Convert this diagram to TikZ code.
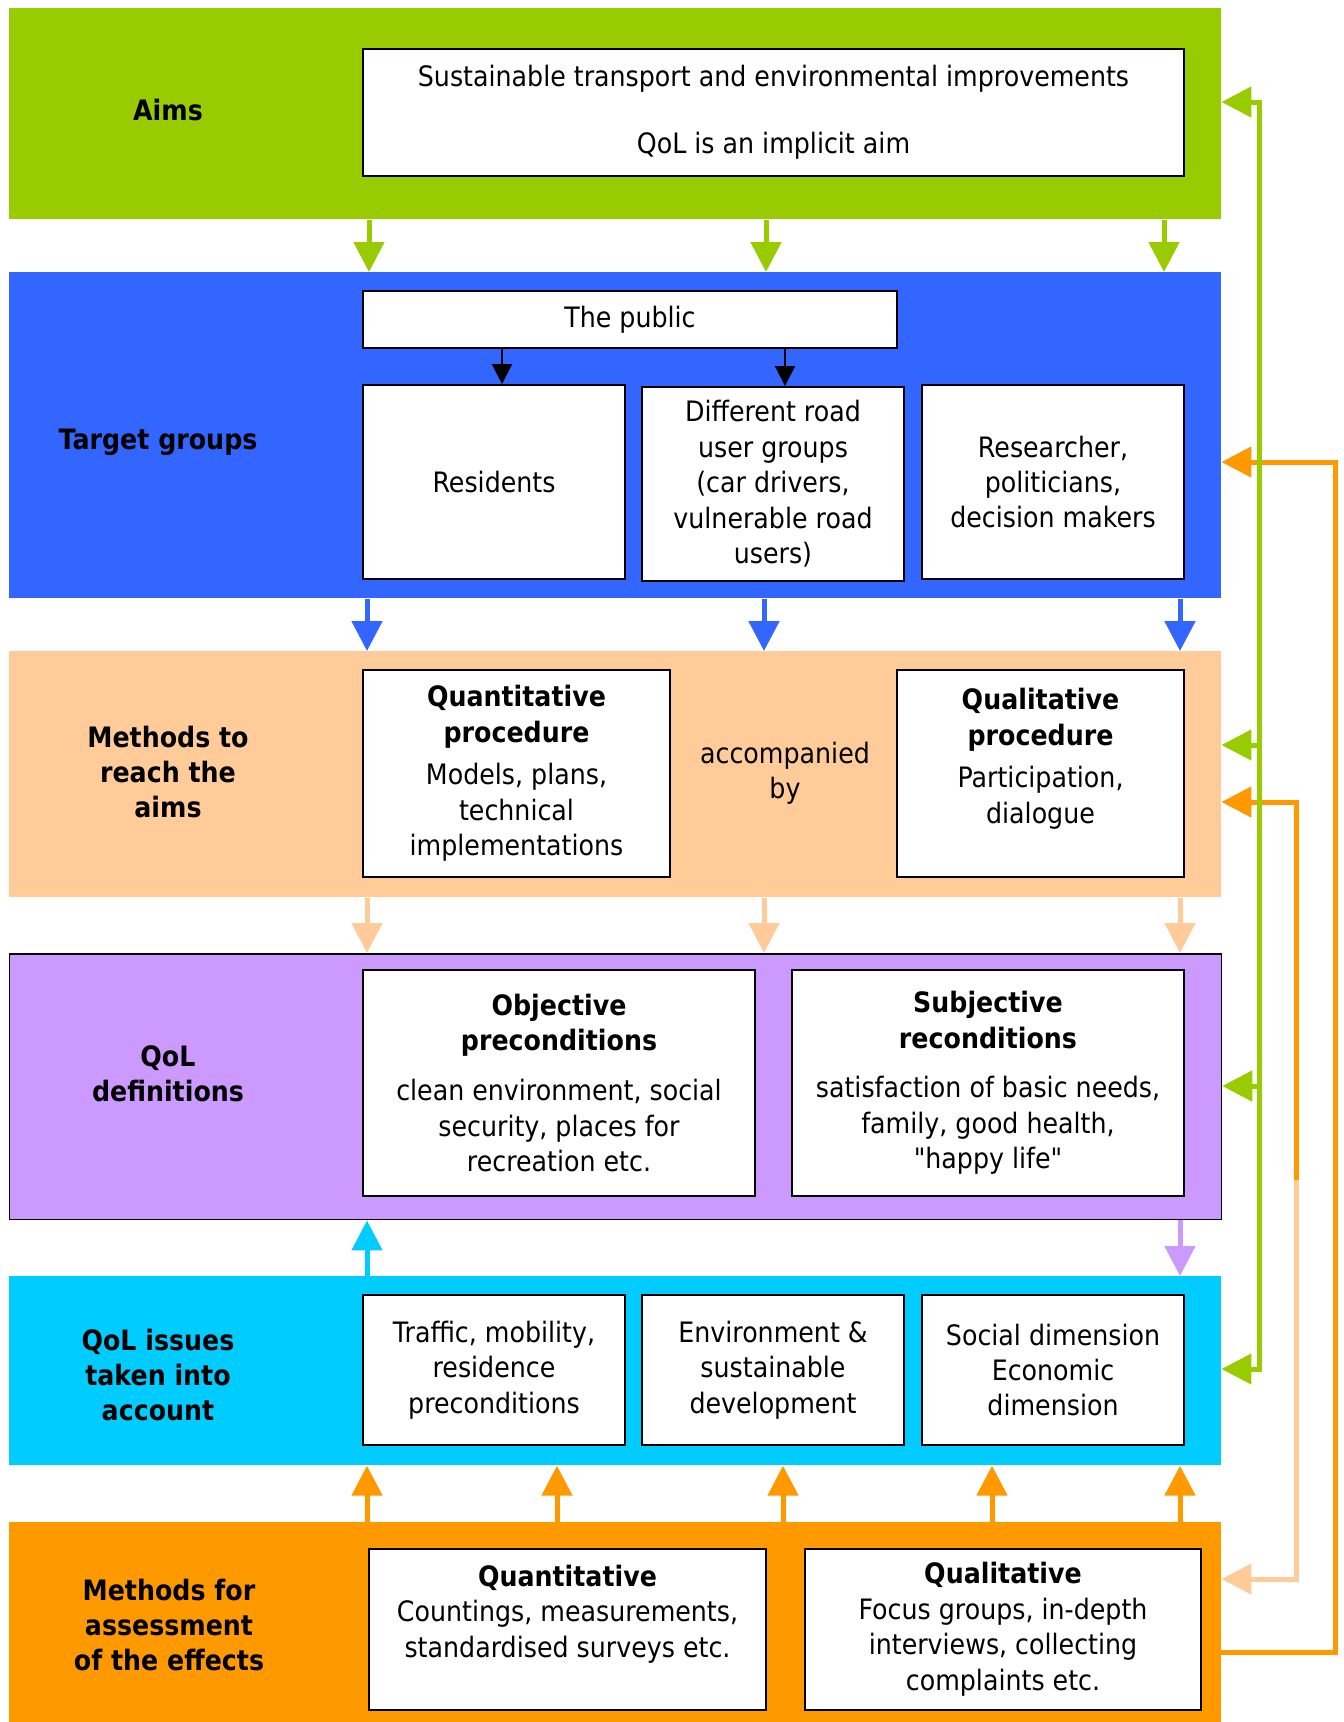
\documentclass[tikz,border=0pt]{standalone}
\usepackage{fontspec}
\setmainfont{DejaVu Sans}[FakeStretch=0.9]
\newfontfamily\quotefont{DejaVu Sans}[FakeStretch=0.9]
\usepackage{tikz}
\usetikzlibrary{positioning,arrows.meta}
\definecolor{aimgreen}{RGB}{153,204,0}
\definecolor{grpblue}{RGB}{51,102,255}
\definecolor{methpeach}{RGB}{255,204,153}
\definecolor{qollilac}{RGB}{204,153,255}
\definecolor{isscyan}{RGB}{0,204,255}
\definecolor{assorange}{RGB}{255,153,0}

\begin{document}
\begin{tikzpicture}[x=0.02cm, y=-0.02cm,
  font=\fontsize{16}{20.2}\selectfont,
  band/.style ={anchor=north west, minimum width=24.24cm, inner sep=0pt},
  inbox/.style={draw, line width=0.04cm, fill=white, align=center, inner sep=0pt},
  lbl/.style  ={align=center, font=\fontsize{16}{20.2}\selectfont\bfseries},
  arr/.style  ={line width=0.1cm, -{Triangle[length=0.6cm, width=0.6cm]}},
  arr2/.style ={line width=0.1cm, {Triangle[length=0.6cm, width=0.6cm]}-{Triangle[length=0.6cm, width=0.6cm]}},
  thin/.style ={line width=0.04cm, -{Triangle[length=0.4cm, width=0.4cm]}}]

\useasboundingbox (0,0) rectangle (1344,1722);

% bands
\node[band, fill=aimgreen,  minimum height=4.22cm] (aims)    at (9,8)    {};
\node[band, fill=grpblue,   minimum height=6.52cm] (target)  at (9,272)  {};
\node[band, fill=methpeach, minimum height=4.92cm] (methods) at (9,651)  {};
\node[band, fill=qollilac,  minimum height=5.32cm, draw, line width=0.03cm] (qoldef) at (9,953) {};
\node[band, fill=isscyan,   minimum height=3.78cm] (issues)  at (9,1276) {};
\node[band, fill=assorange, minimum height=4.00cm] (assess)  at (9,1522) {};

% band labels
\node[lbl] (laims)    at (168,110)  {Aims};
\node[lbl] (ltarget)  at (158,442)  {Target groups};
\node[lbl] (lmethods) at (168,772)  {Methods to\\reach the\\aims};
\node[lbl] (lqoldef)  at (168,1074) {QoL\\definitions};
\node[lbl] (lissues)  at (158,1375) {QoL issues\\taken into\\account};
\node[lbl] (lassess)  at (169,1625) {Methods for\\assessment\\of the effects};

% boxes
\node[inbox, minimum width=16.42cm, minimum height=2.54cm] (aimbox) at (773.5,112.5)
  {Sustainable transport and environmental improvements\\[18pt]QoL is an implicit aim};

\node[inbox, minimum width=10.68cm, minimum height=1.14cm] (public) at (630,319.5) {The public};
\node[inbox, minimum width=5.24cm, minimum height=3.88cm] (resid)    at (494,482)  {Residents};
\node[inbox, minimum width=5.24cm, minimum height=3.88cm] (road)     at (773,484)
  {Different road\\user groups\\(car drivers,\\vulnerable road\\users)};
\node[inbox, minimum width=5.24cm, minimum height=3.88cm] (research) at (1053,482)
  {Researcher,\\politicians,\\decision makers};

\node[inbox, minimum width=6.14cm, minimum height=4.14cm] (quantproc) at (516.5,773.5)
  {\textbf{Quantitative}\\\textbf{procedure}\\[4pt]Models, plans,\\technical\\implementations};
\node[align=center] (accomp) at (785,773) {accompanied\\by};
\node[inbox, minimum width=5.74cm, minimum height=4.14cm] (qualproc) at (1040.5,773.5)
  {\textbf{Qualitative}\\\textbf{procedure}\\[4pt]Participation,\\dialogue\\\mbox{}};

\node[inbox, minimum width=7.84cm, minimum height=4.54cm] (objective) at (559,1083)
  {\textbf{Objective}\\\textbf{preconditions}\\[8pt]clean environment, social\\security, places for\\recreation etc.};
\node[inbox, minimum width=7.84cm, minimum height=4.54cm] (subjective) at (988,1083)
  {\textbf{Subjective}\\\textbf{reconditions}\\[8pt]satisfaction of basic needs,\\family, good health,\\{\quotefont"}happy life{\quotefont"}};

\node[inbox, minimum width=5.24cm, minimum height=3.0cm] (traffic) at (494,1370)
  {Traffic, mobility,\\residence\\preconditions};
\node[inbox, minimum width=5.24cm, minimum height=3.0cm] (environ) at (773,1370)
  {Environment \&\\sustainable\\development};
\node[inbox, minimum width=5.24cm, minimum height=3.0cm] (social)  at (1053,1370)
  {Social dimension\\Economic\\dimension};

\node[inbox, minimum width=7.94cm, minimum height=3.22cm] (quantass) at (567.5,1629)
  {\textbf{Quantitative}\\Countings, measurements,\\standardised surveys etc.\\\mbox{}};
\node[inbox, minimum width=7.92cm, minimum height=3.22cm] (qualass) at (1003,1629)
  {\textbf{Qualitative}\\Focus groups, in-depth\\interviews, collecting\\complaints etc.};

% arrow columns
\coordinate (ca) at (367,0);
\coordinate (cb) at (764,0);
\coordinate (cc) at (1180,0);
\coordinate (ga) at (369,0);
\coordinate (gb) at (766,0);
\coordinate (gc) at (1164,0);

\draw[arr, aimgreen] (aims.south -| ga) -- (target.north -| ga);
\draw[arr, aimgreen] (aims.south -| gb) -- (target.north -| gb);
\draw[arr, aimgreen] (aims.south -| gc) -- (target.north -| gc);

\draw[arr, grpblue] (target.south -| ca) -- (methods.north -| ca);
\draw[arr, grpblue] (target.south -| cb) -- (methods.north -| cb);
\draw[arr, grpblue] (target.south -| cc) -- (methods.north -| cc);

\draw[arr, methpeach] (methods.south -| ca) -- (qoldef.north -| ca);
\draw[arr, methpeach] (methods.south -| cb) -- (qoldef.north -| cb);
\draw[arr, methpeach] (methods.south -| cc) -- (qoldef.north -| cc);

\draw[arr, isscyan]  (issues.north -| ca) -- (qoldef.south -| ca);
\draw[arr, qollilac] (qoldef.south -| cc) -- (issues.north -| cc);

\coordinate (oa) at (557,0);
\coordinate (ob) at (783,0);
\coordinate (oc) at (992,0);
\draw[arr, assorange] (assess.north -| ca) -- (issues.south -| ca);
\draw[arr, assorange] (assess.north -| oa) -- (issues.south -| oa);
\draw[arr, assorange] (assess.north -| ob) -- (issues.south -| ob);
\draw[arr, assorange] (assess.north -| oc) -- (issues.south -| oc);
\draw[arr, assorange] (assess.north -| cc) -- (issues.south -| cc);

% the public
\coordinate (pa) at (502,0);
\coordinate (pb) at (785,0);
\draw[thin] (public.south -| pa) -- (resid.north -| pa);
\draw[thin] (public.south -| pb) -- (road.north -| pb);

% feedback on the right
\coordinate (o1b) at (1335,1652);
\coordinate (o1t) at (1335,462);
\draw[arr, assorange] (assess.east |- o1b) -- (o1b) -- (o1t) -- (target.east |- o1t);

\coordinate (o2t) at (1296,802);
\coordinate (o2m) at (1296,1180);
\coordinate (o2b) at (1296,1579);
\draw[arr, assorange]  (o2m) -- (o2t) -- (methods.east |- o2t);
\draw[arr, methpeach]  (o2m) -- (o2b) -- (assess.east |- o2b);

\coordinate (gt)  at (1259,102);
\coordinate (gm1) at (1259,745);
\coordinate (gm2) at (1259,1086);
\coordinate (gbt) at (1259,1369);
\draw[arr2, aimgreen] (issues.east |- gbt) -- (gbt) -- (gt) -- (aims.east |- gt);
\draw[arr, aimgreen] (gm1) -- (methods.east |- gm1);
\draw[arr, aimgreen] (gm2) -- (qoldef.east |- gm2);
\end{tikzpicture}
\end{document}
